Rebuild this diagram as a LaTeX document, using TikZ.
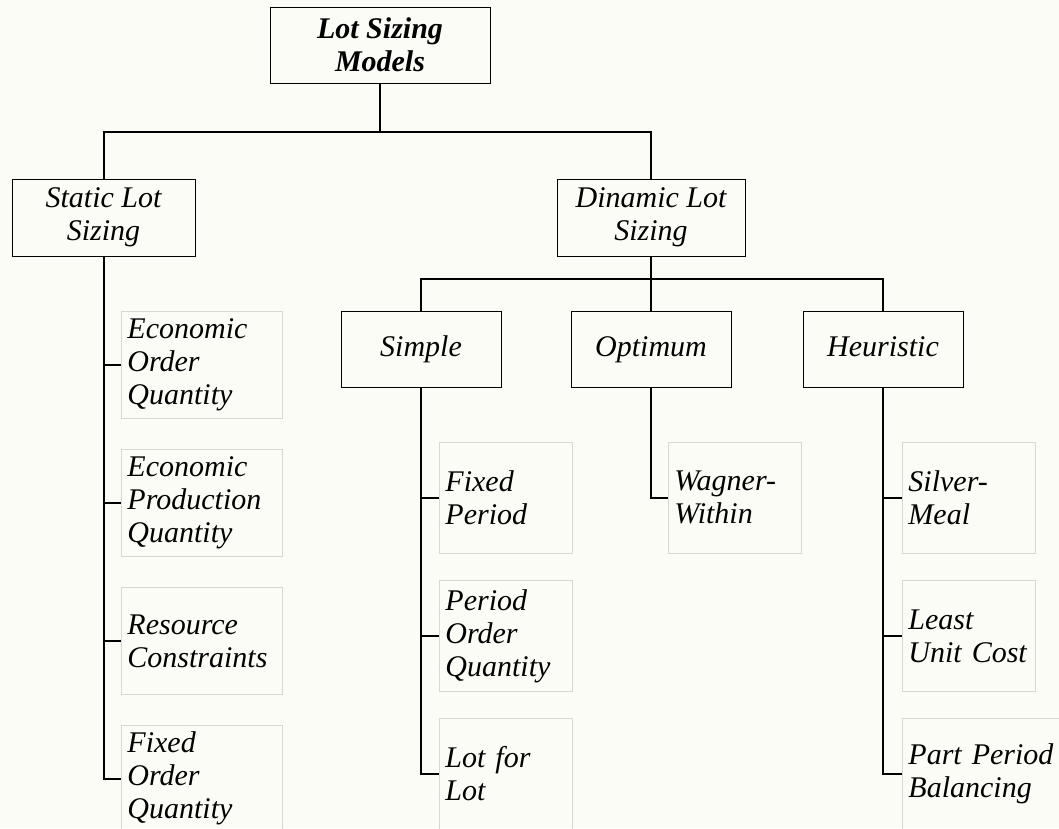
\documentclass[tikz,border=0pt]{standalone}
\usepackage{fontspec}
\setmainfont{Liberation Serif}
\definecolor{bgcol}{RGB}{252,252,247}
\definecolor{leafgray}{RGB}{215,215,212}
\begin{document}
\begin{tikzpicture}[x=1pt,y=-1pt,
  txt/.style={font=\fontsize{30}{33}\selectfont\itshape},
  mainbox/.style={txt, draw=black, line width=1pt, fill=bgcol, align=center, inner sep=2pt},
  onebox/.style={mainbox, minimum width=160pt, minimum height=76pt, text height=21pt, text depth=6pt},
  leafbox/.style={txt, draw=leafgray, line width=0.9pt, align=left, inner xsep=6pt, inner ysep=2pt, anchor=west},
  sleaf/.style={leafbox, text width=149pt, minimum height=107pt},
  dleaf/.style={leafbox, text width=121pt, minimum height=111pt},
  conn/.style={draw=black, line width=2pt}
]
\fill[bgcol] (0,0) rectangle (1059,828);
\useasboundingbox (0,0) rectangle (1059,828);

% main boxes
\node[mainbox, font=\fontsize{30}{33}\selectfont\bfseries\itshape, minimum width=220pt, minimum height=76pt] (root) at (380,45) {Lot Sizing\\Models};
\node[mainbox, minimum width=183pt, minimum height=77pt] (static) at (103.5,217.5) {Static Lot\\Sizing};
\node[mainbox, minimum width=188pt, minimum height=77pt] (dinamic) at (651,217.5) {Dinamic Lot\\Sizing};
\node[onebox] (simple) at (421,349) {Simple};
\node[onebox] (optimum) at (651,349) {Optimum};
\node[onebox] (heuristic) at (883,349) {Heuristic};

% static leaves
\node[sleaf] (eoq) at (121,364.5) {Economic\\Order\\Quantity};
\node[sleaf] (epq) at (121,502.5) {Economic\\Production\\Quantity};
\node[sleaf] (rc) at (121,641) {Resource\\Constraints};
\node[sleaf] (foq) at (121,778.5) {Fixed\\Order\\Quantity};

% simple leaves
\node[dleaf] (fp) at (439,497.5) {Fixed\\Period};
\node[dleaf] (poq) at (439,636) {Period\\Order\\Quantity};
\node[dleaf] (lfl) at (439,773.5) {Lot for\\Lot};

% optimum leaf
\node[dleaf] (ww) at (668,497.5) {Wagner-\\Within};

% heuristic leaves
\node[dleaf] (sm) at (902,497.5) {Silver-\\Meal};
\node[dleaf] (luc) at (902,636) {Least\\Unit Cost};
\node[leafbox, text width=148pt, minimum height=111pt] (ppb) at (902,773.5) {Part Period\\Balancing};

% connectors
\coordinate (b1) at (380,132);
\coordinate (b2) at (651,279);
\draw[conn] (root.south) -- (b1);
\draw[conn] (static.north) |- (b1) -| (dinamic.north);
\draw[conn] (dinamic.south) -- (b2);
\draw[conn] (simple.north) |- (b2) -| (heuristic.north);
\draw[conn] (b2) -- (optimum.north);

\draw[conn] (static.south) |- (foq.west);
\draw[conn] (static.south |- eoq.west) -- (eoq.west);
\draw[conn] (static.south |- epq.west) -- (epq.west);
\draw[conn] (static.south |- rc.west) -- (rc.west);

\draw[conn] (simple.south) |- (lfl.west);
\draw[conn] (simple.south |- fp.west) -- (fp.west);
\draw[conn] (simple.south |- poq.west) -- (poq.west);

\draw[conn] (optimum.south) |- (ww.west);

\draw[conn] (heuristic.south) |- (ppb.west);
\draw[conn] (heuristic.south |- sm.west) -- (sm.west);
\draw[conn] (heuristic.south |- luc.west) -- (luc.west);
\end{tikzpicture}
\end{document}
